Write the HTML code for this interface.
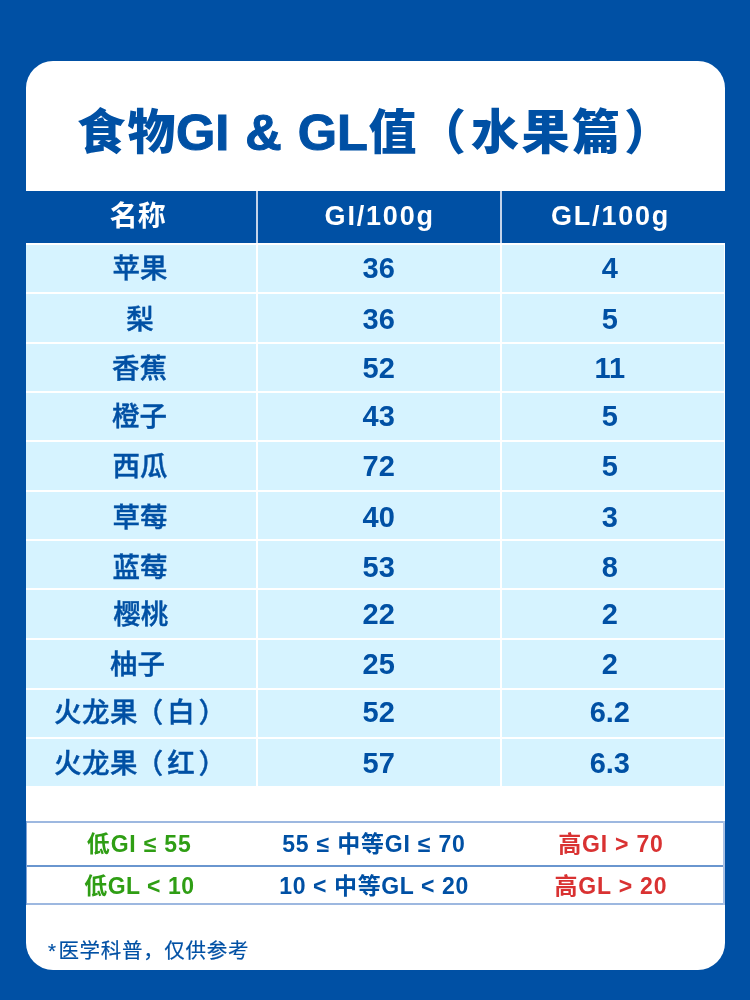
<!DOCTYPE html>
<html lang="zh-CN">
<head>
<meta charset="utf-8">
<title>食物GI &amp; GL值（水果篇）</title>
<style>
html,body{margin:0;padding:0;}
body{width:750px;height:1000px;background:#0050a4;position:relative;overflow:hidden;
 font-family:"Liberation Sans","Noto Sans CJK SC",sans-serif;color:#0050a4;}
.card{position:absolute;left:26px;top:61px;width:699px;height:909px;background:#fff;border-radius:27px;}
.thead{position:absolute;left:26px;top:191px;width:699px;height:52px;background:#0050a4;}
.vd{position:absolute;top:191px;width:2px;height:52px;background:#c3d3ea;}
.cell{position:absolute;background:#d6f3ff;}
.t{position:absolute;width:300px;text-align:center;white-space:nowrap;}
h1{margin:0;position:absolute;left:0;top:100.5px;width:750px;height:64px;line-height:64px;font-size:48px;font-weight:700;white-space:nowrap;}
h1 span{position:absolute;top:0;font-weight:900;}
h1 .lat{font-size:50.5px;font-weight:700;word-spacing:2px;-webkit-text-stroke:1px #0050a4;}
.th{font-size:28px;font-weight:700;color:#fff;height:40px;line-height:40px;}
.th.lat{font-size:27px;letter-spacing:1.8px;}
.nm{font-size:27.5px;font-weight:500;-webkit-text-stroke:0.4px #0050a4;height:40px;line-height:40px;}
.num{font-size:29px;font-weight:700;height:40px;line-height:40px;}
.lg{font-size:23px;font-weight:700;height:34px;line-height:34px;letter-spacing:0.8px;}

.hl{position:absolute;left:26px;width:699px;height:2px;}
.foot{position:absolute;left:48px;top:934.7px;-webkit-text-stroke:0.2px #0050a4;height:32px;line-height:32px;font-size:20.5px;letter-spacing:0.7px;font-weight:400;white-space:nowrap;}
</style>
</head>
<body>
<div class="card"></div>
<h1><span style="left:77px;letter-spacing:2.5px">食物</span><span class="lat" style="left:176px">GI &amp; GL</span><span style="left:368.5px">值</span><span style="left:418px">（</span><span style="left:471px;letter-spacing:2.5px">水果篇</span><span style="left:624px">）</span></h1>
<div class="thead"></div>
<div class="vd" style="left:256px"></div>
<div class="vd" style="left:500px"></div>

<div class="hrow">
<div class="t th" style="left:-12.3px;top:196.5px;">名称</div>
<div class="t th lat" style="left:229.7px;top:195.5px;">GI/100g</div>
<div class="t th lat" style="left:460.6px;top:195.5px;">GL/100g</div>
</div>
<div class="tbody">
<div class="row">
<div class="cell" style="left:26.0px;top:244.8px;width:230.2px;height:47.3px"></div>
<div class="cell" style="left:257.8px;top:244.8px;width:242.4px;height:47.3px"></div>
<div class="cell" style="left:501.8px;top:244.8px;width:222.2px;height:47.3px"></div>
<div class="t nm" style="left:-10.1px;top:248.7px;">苹果</div>
<div class="t num" style="left:228.7px;top:247.7px;">36</div>
<div class="t num" style="left:459.8px;top:247.7px;">4</div>
</div>
<div class="row">
<div class="cell" style="left:26.0px;top:293.9px;width:230.2px;height:47.8px"></div>
<div class="cell" style="left:257.8px;top:293.9px;width:242.4px;height:47.8px"></div>
<div class="cell" style="left:501.8px;top:293.9px;width:222.2px;height:47.8px"></div>
<div class="t nm" style="left:-9.9px;top:299.9px;">梨</div>
<div class="t num" style="left:228.7px;top:298.9px;">36</div>
<div class="t num" style="left:459.8px;top:298.9px;">5</div>
</div>
<div class="row">
<div class="cell" style="left:26.0px;top:343.5px;width:230.2px;height:47.6px"></div>
<div class="cell" style="left:257.8px;top:343.5px;width:242.4px;height:47.6px"></div>
<div class="cell" style="left:501.8px;top:343.5px;width:222.2px;height:47.6px"></div>
<div class="t nm" style="left:-10.4px;top:349.0px;">香蕉</div>
<div class="t num" style="left:228.7px;top:348.0px;">52</div>
<div class="t num" style="left:459.8px;top:348.0px;">11</div>
</div>
<div class="row">
<div class="cell" style="left:26.0px;top:392.9px;width:230.2px;height:47.4px"></div>
<div class="cell" style="left:257.8px;top:392.9px;width:242.4px;height:47.4px"></div>
<div class="cell" style="left:501.8px;top:392.9px;width:222.2px;height:47.4px"></div>
<div class="t nm" style="left:-10.4px;top:396.7px;">橙子</div>
<div class="t num" style="left:228.7px;top:395.7px;">43</div>
<div class="t num" style="left:459.8px;top:395.7px;">5</div>
</div>
<div class="row">
<div class="cell" style="left:26.0px;top:442.1px;width:230.2px;height:47.8px"></div>
<div class="cell" style="left:257.8px;top:442.1px;width:242.4px;height:47.8px"></div>
<div class="cell" style="left:501.8px;top:442.1px;width:222.2px;height:47.8px"></div>
<div class="t nm" style="left:-10.1px;top:447.3px;">西瓜</div>
<div class="t num" style="left:228.7px;top:446.3px;">72</div>
<div class="t num" style="left:459.8px;top:446.3px;">5</div>
</div>
<div class="row">
<div class="cell" style="left:26.0px;top:491.7px;width:230.2px;height:47.8px"></div>
<div class="cell" style="left:257.8px;top:491.7px;width:242.4px;height:47.8px"></div>
<div class="cell" style="left:501.8px;top:491.7px;width:222.2px;height:47.8px"></div>
<div class="t nm" style="left:-10.1px;top:497.7px;">草莓</div>
<div class="t num" style="left:228.7px;top:496.7px;">40</div>
<div class="t num" style="left:459.8px;top:496.7px;">3</div>
</div>
<div class="row">
<div class="cell" style="left:26.0px;top:541.3px;width:230.2px;height:47.2px"></div>
<div class="cell" style="left:257.8px;top:541.3px;width:242.4px;height:47.2px"></div>
<div class="cell" style="left:501.8px;top:541.3px;width:222.2px;height:47.2px"></div>
<div class="t nm" style="left:-10.1px;top:548.0px;">蓝莓</div>
<div class="t num" style="left:228.7px;top:547.0px;">53</div>
<div class="t num" style="left:459.8px;top:547.0px;">8</div>
</div>
<div class="row">
<div class="cell" style="left:26.0px;top:590.3px;width:230.2px;height:47.8px"></div>
<div class="cell" style="left:257.8px;top:590.3px;width:242.4px;height:47.8px"></div>
<div class="cell" style="left:501.8px;top:590.3px;width:222.2px;height:47.8px"></div>
<div class="t nm" style="left:-9.3px;top:595.0px;">樱桃</div>
<div class="t num" style="left:228.7px;top:594.0px;">22</div>
<div class="t num" style="left:459.8px;top:594.0px;">2</div>
</div>
<div class="row">
<div class="cell" style="left:26.0px;top:639.9px;width:230.2px;height:48.2px"></div>
<div class="cell" style="left:257.8px;top:639.9px;width:242.4px;height:48.2px"></div>
<div class="cell" style="left:501.8px;top:639.9px;width:222.2px;height:48.2px"></div>
<div class="t nm" style="left:-12.5px;top:644.6px;">柚子</div>
<div class="t num" style="left:228.7px;top:643.6px;">25</div>
<div class="t num" style="left:459.8px;top:643.6px;">2</div>
</div>
<div class="row">
<div class="cell" style="left:26.0px;top:689.9px;width:230.2px;height:47.1px"></div>
<div class="cell" style="left:257.8px;top:689.9px;width:242.4px;height:47.1px"></div>
<div class="cell" style="left:501.8px;top:689.9px;width:222.2px;height:47.1px"></div>
<div class="t nm" style="left:54px;top:693.0px;text-align:left"><span style="letter-spacing:.5px">火龙</span><span style="letter-spacing:-1.7px">果</span><span style="letter-spacing:4.0px">（</span><span style="letter-spacing:3.7px">白</span>）</div>
<div class="t num" style="left:228.7px;top:692.0px;">52</div>
<div class="t num" style="left:459.8px;top:692.0px;">6.2</div>
</div>
<div class="row">
<div class="cell" style="left:26.0px;top:738.8px;width:230.2px;height:47.3px"></div>
<div class="cell" style="left:257.8px;top:738.8px;width:242.4px;height:47.3px"></div>
<div class="cell" style="left:501.8px;top:738.8px;width:222.2px;height:47.3px"></div>
<div class="t nm" style="left:54px;top:744.0px;text-align:left"><span style="letter-spacing:.5px">火龙</span><span style="letter-spacing:-1.7px">果</span><span style="letter-spacing:4.0px">（</span><span style="letter-spacing:3.7px">红</span>）</div>
<div class="t num" style="left:228.7px;top:743.0px;">57</div>
<div class="t num" style="left:459.8px;top:743.0px;">6.3</div>
</div>
</div>
<div class="legend">
<div class="hl" style="top:821px;background:#9db8e0"></div>
<div class="hl" style="top:865px;background:#6a96cf"></div>
<div class="hl" style="top:903px;background:#9db8e0"></div>
<div style="position:absolute;left:723px;top:821px;width:2px;height:84px;background:#a9c1e4"></div>
<div style="position:absolute;left:26px;top:821px;width:1px;height:84px;background:#7fa3d6"></div>
<div class="t lg" style="left:-10.8px;top:827.0px;color:#2f9e14">低GI ≤ 55</div>
<div class="t lg" style="left:-10.7px;top:868.5px;letter-spacing:.5px;color:#2f9e14">低GL &lt; 10</div>
<div class="t lg" style="left:223.9px;top:827.0px;">55 ≤ 中等GI ≤ 70</div>
<div class="t lg" style="left:224.1px;top:868.5px;letter-spacing:.6px">10 &lt; 中等GL &lt; 20</div>
<div class="t lg" style="left:460.9px;top:827.0px;color:#d93232">高GI &gt; 70</div>
<div class="t lg" style="left:460.9px;top:868.5px;color:#d93232">高GL &gt; 20</div>
</div>
<div class="foot"><span style="margin-right:1.7px">*</span>医学科普，仅供参考</div>
</body>
</html>
